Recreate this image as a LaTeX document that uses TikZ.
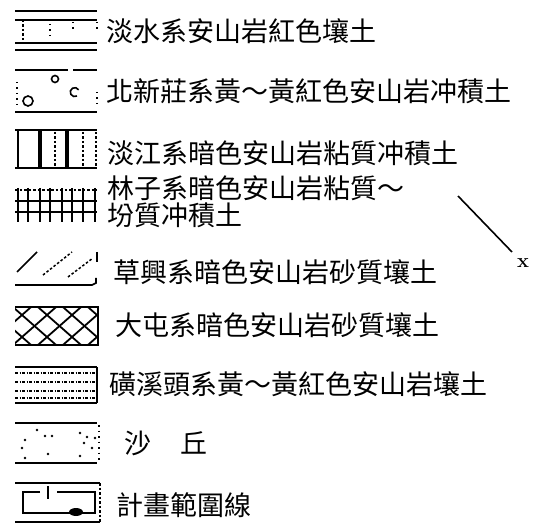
\documentclass[tikz,border=0pt]{standalone}
\usepackage{fontspec}
\newfontfamily\cjk{Noto Sans CJK TC}
\begin{document}
\begin{tikzpicture}[x=1pt,y=-1pt,
  lbl/.style={anchor=west,inner sep=0pt,font=\cjk\fontsize{27}{27}\selectfont,align=left},
  ln/.style={line width=1.6pt},
  thickln/.style={line width=3.5pt},
  dsh/.style={line width=1.5pt,dash pattern=on 2.5pt off 2pt},
  dotl/.style={line width=1.6pt,dash pattern=on 1.5pt off 4pt}]
\useasboundingbox (0,0) rectangle (540,526);
% ---- row 1
\draw[ln] (15,11) -- (97,11);
\draw[ln] (15,20) -- (97,20);
\draw[ln] (15,43) -- (97,43);
\draw[ln] (15,50) -- (97,50);
\draw[dsh] (23,20) -- (23,43);
\draw[dotl] (50,24) -- (50,38);
\draw[dotl] (73,22) -- (73,32);
\draw[dotl] (97,22) -- (97,30);
\node[lbl] (t1) at (106,31) {淡水系安山岩紅色壤土};
% ---- row 2
\draw[ln] (15,70) -- (68,70);
\draw[ln] (73,70) -- (97,70);
\draw[ln] (15,112) -- (97,112);
\draw[ln] (55,79) circle (3.5);
\draw[ln] (28,101) circle (5);
\draw[ln] (77,96) arc (-120:150:-4.5);
\draw[dotl] (17,82) -- (17,108);
\draw[dotl] (97,92) -- (97,108);
\node[lbl] (t2) at (106,91) {北新莊系黃～黃紅色安山岩冲積土};
% ---- row 3
\draw[ln] (15,130) -- (97,130);
\draw[ln] (15,168) -- (97,168);
\draw[ln] (18,130) -- (18,168);
\draw[thickln] (40,130) -- (40,168);
\draw[thickln] (67,130) -- (67,168);
\draw[dsh] (55,132) -- (55,166);
\draw[dsh] (83,132) -- (83,166);
\draw[dsh] (96,132) -- (96,166);
\node[lbl] (t3) at (107,153) {淡江系暗色安山岩粘質冲積土};
% ---- row 4
\draw[dsh] (15,190) -- (97,190);
\draw[ln] (15,201) -- (97,201);
\draw[line width=2.6pt] (15,212) -- (97,212);
\foreach \xx in {18,28,40,50,62,72,83,95}
  \draw[ln] (\xx,188) -- (\xx,222);
\node[lbl] (t4) at (107,202) {林子系暗色安山岩粘質～\\坋質冲積土};
% ---- row 5
\draw[ln] (17,272) -- (37,252);
\draw[dsh] (43,275) -- (72,252);
\draw[dsh] (68,277) -- (93,258);
\draw[ln] (15,285) -- (92,285) -- (96,283) -- (96,278);
\draw[ln] (97,252) -- (97,262);
\node[lbl] (t5) at (113,272) {草興系暗色安山岩砂質壤土};
% ---- row 6
\draw[ln] (15,307) -- (98,307) -- (98,345) -- (15,345);
\begin{scope}
\clip (15,307) rectangle (98,345);
\foreach \k in {-4,...,4}{
  \draw[line width=1.8pt] ({22+25*\k-50},{315-44}) -- ({22+25*\k+50},{315+44});
  \draw[line width=1.8pt] ({22+25*\k+50},{315-44}) -- ({22+25*\k-50},{315+44});
}
\end{scope}
\node[lbl] (t6) at (115,325) {大屯系暗色安山岩砂質壤土};
% ---- row 7
\draw[ln] (15,367) -- (97,367);
\draw[line width=2.6pt] (15,403) -- (97,403);
\foreach \yy in {373,382,391,398}
  \draw[line width=1.8pt,dash pattern=on 3pt off 1.5pt on 1pt off 1.5pt] (15,\yy) -- (97,\yy);
\draw[ln] (97,367) -- (97,403);
\node[lbl] (t7) at (109,384) {磺溪頭系黃～黃紅色安山岩壤土};
% ---- row 8
\draw[ln] (15,423) -- (97,423);
\draw[ln] (15,463) -- (97,463);
\draw[dotl] (99,425) -- (99,461);
\foreach \p in {(37,430),(45,436),(52,436),(80,433),(87,437),(25,440),(84,443),(92,448),(22,448),(48,454),(80,456),(25,458),(95,438)}
  \fill \p circle (1.4);
\node[lbl] (t8) at (124,443) {沙\hspace{1.1em}丘};
% ---- row 9
\draw[ln] (15,483) -- (100,483);
\draw[ln] (15,522) -- (100,522);
\draw[dsh] (100,483) -- (100,522);
\draw[line width=2.6pt] (40,492) -- (23,492) -- (23,513) -- (95,513) -- (95,492) -- (57,492);
\draw[line width=2pt] (48,486) -- (48,499);
\fill (76,512) ellipse (7 and 4);
\node[lbl] (t9) at (116,505) {計畫範圍線};
% ---- pointer line and mark
\coordinate (pa) at (458,196);
\coordinate (pb) at (512,252);
\draw[line width=1.6pt] (pa) -- (pb);
\node[inner sep=0pt,font=\bfseries\fontsize{20}{20}\selectfont] (xm) at (523,263) {x};
\end{tikzpicture}
\end{document}
